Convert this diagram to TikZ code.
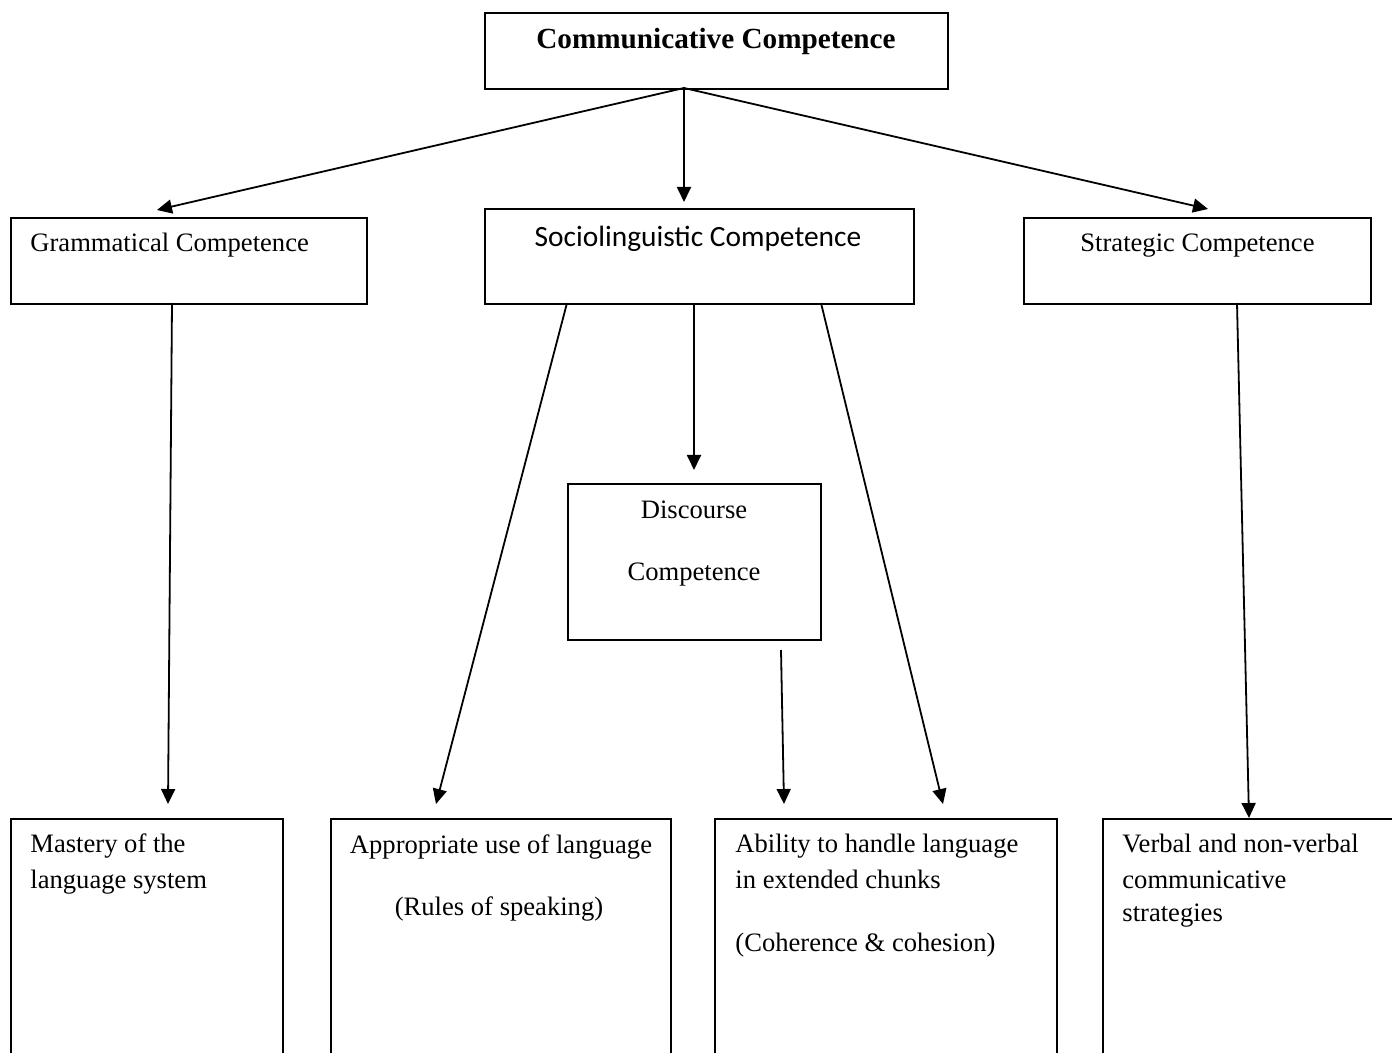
\documentclass[tikz,border=0pt]{standalone}
\usepackage{fontspec}
\setmainfont{Liberation Serif}
\newfontfamily\calibrifont{Carlito}
\usetikzlibrary{arrows.meta}
\begin{document}
\begin{tikzpicture}[x=0.5pt,y=-0.5pt,
  box/.style={draw,line width=0.9pt,rectangle,inner sep=0pt,anchor=north west},
  lbl/.style={inner sep=0pt,font=\fontsize{13.3}{15}\selectfont},
  arr/.style={line width=0.9pt,-{Triangle[length=7.5pt,width=7pt]}}]
\clip (0,0) rectangle (1392,1053);
\fill[white] (0,0) rectangle (1392,1053);
% boxes
\node[box,minimum width=231.5pt,minimum height=38pt] (top) at (484,12) {};
\node[box,minimum width=178pt,minimum height=43pt] (gram) at (10,217) {};
\node[box,minimum width=214.5pt,minimum height=47.5pt] (socio) at (484,208) {};
\node[box,minimum width=173.5pt,minimum height=43pt] (strat) at (1023,217) {};
\node[box,minimum width=126.5pt,minimum height=78pt] (disc) at (567,483) {};
\node[box,minimum width=136pt,minimum height=200pt] (mast) at (10,818) {};
\node[box,minimum width=170pt,minimum height=200pt] (appr) at (330,818) {};
\node[box,minimum width=171pt,minimum height=200pt] (abil) at (714,818) {};
\node[box,minimum width=200pt,minimum height=200pt] (verb) at (1102,818) {};
% texts
\node[lbl,anchor=base,font=\fontsize{14.6}{16}\selectfont\bfseries] (ttop) at (716,49) {Communicative Competence};
\node[lbl,anchor=base west] (tgram) at (30,252) {Grammatical Competence};
\node[lbl,anchor=base,font=\calibrifont\fontsize{14.7}{16}\selectfont] (tsocio) at (698,247) {Sociolinguistic Competence};
\node[lbl,anchor=base west] (tstrat) at (1080,252) {Strategic Competence};
\node[lbl,anchor=base] (tdisc1) at (694,518) {Discourse};
\node[lbl,anchor=base] (tdisc2) at (694,580) {Competence};
\node[lbl,anchor=base west] (tm1) at (30,852) {Mastery of the};
\node[lbl,anchor=base west] (tm2) at (30,888) {language system};
\node[lbl,anchor=base] (ta1) at (501,853) {Appropriate use of language};
\node[lbl,anchor=base] (ta2) at (499,915) {(Rules of speaking)};
\node[lbl,anchor=base west] (tb1) at (735,852) {Ability to handle language};
\node[lbl,anchor=base west] (tb2) at (735,888) {in extended chunks};
\node[lbl,anchor=base west] (tb3) at (735,951) {(Coherence \& cohesion)};
\node[lbl,anchor=base west] (tv1) at (1122,852) {Verbal and non-verbal};
\node[lbl,anchor=base west] (tv2) at (1122,888) {communicative};
\node[lbl,anchor=base west] (tv3) at (1122,921) {strategies};
% connector end points
\coordinate (s0) at (684,88);
\coordinate (e1) at (157,210);
\coordinate (e2) at (684,202);
\coordinate (e3) at (1208,209);
\coordinate (s4) at (172,303);
\coordinate (e4) at (168,804);
\coordinate (s5) at (567,303);
\coordinate (e5) at (436,804);
\coordinate (s6) at (694,303);
\coordinate (e6) at (694,470);
\coordinate (s7) at (821,303);
\coordinate (e7) at (943,804);
\coordinate (s8) at (781,650);
\coordinate (e8) at (784,804);
\coordinate (s9) at (1237,303);
\coordinate (e9) at (1249,818);
\draw[arr] (s0) -- (e1);
\draw[arr] (s0) -- (e2);
\draw[arr] (s0) -- (e3);
\draw[arr] (s4) -- (e4);
\draw[arr] (s5) -- (e5);
\draw[arr] (s6) -- (e6);
\draw[arr] (s7) -- (e7);
\draw[arr] (s8) -- (e8);
\draw[arr] (s9) -- (e9);
\end{tikzpicture}
\end{document}
